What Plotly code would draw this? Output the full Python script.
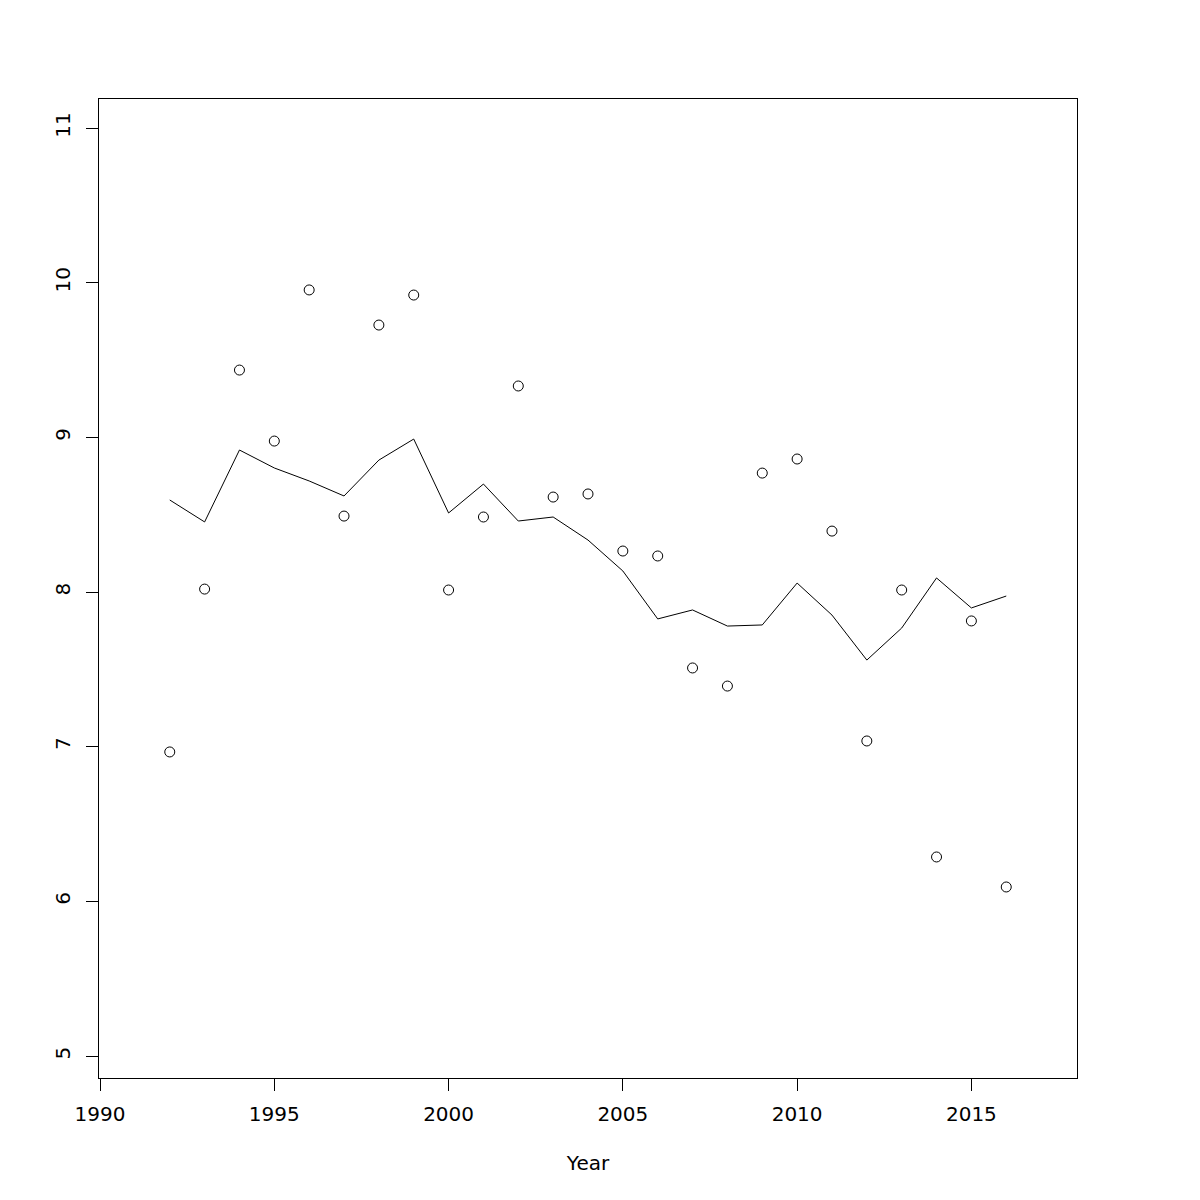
import plotly.graph_objects as go

years = list(range(1992, 2017))
points = [6.966, 8.019, 9.435, 8.976, 9.953, 8.491, 9.726, 9.920, 8.013, 8.485,
          9.332, 8.614, 8.634, 8.265, 8.233, 7.509, 7.392, 8.769, 8.860, 8.394,
          7.037, 8.013, 6.287, 7.813, 6.093]
trend = [8.595, 8.453, 8.918, 8.802, 8.718, 8.621, 8.853, 8.989, 8.511, 8.698,
         8.459, 8.485, 8.336, 8.136, 7.826, 7.884, 7.780, 7.787, 8.058, 7.851,
         7.560, 7.767, 8.091, 7.897, 7.974]
x_ticks = [1990, 1995, 2000, 2005, 2010, 2015]
y_ticks = [5, 6, 7, 8, 9, 10, 11]

fig = go.Figure()
fig.add_trace(go.Scatter(x=years, y=points, mode="markers",
                         marker=dict(symbol="circle-open", size=10, color="black",
                                     line=dict(width=1, color="black")),
                         showlegend=False))
fig.add_trace(go.Scatter(x=years, y=trend, mode="lines",
                         line=dict(color="black", width=1), showlegend=False))

font = dict(family="DejaVu Sans", size=20, color="black")
fig.update_layout(
    width=1200, height=1200,
    margin=dict(l=91, r=131, t=91, b=130),
    paper_bgcolor="white", plot_bgcolor="white",
    font=font,
)
fig.update_xaxes(range=[1989.97, 2018.03], tickvals=x_ticks, ticks="outside",
                 ticklen=12, tickwidth=1, tickcolor="black", showgrid=False,
                 zeroline=False, showline=True, linecolor="black", linewidth=1,
                 mirror=True, tickfont=font, ticklabelstandoff=6,
                 title=dict(text="Year", font=font, standoff=30))
fig.update_yaxes(range=[4.858, 11.1875], tickvals=y_ticks, ticks="outside",
                 ticklen=12, tickwidth=1, tickcolor="black", showgrid=False,
                 zeroline=False, showline=True, linecolor="black", linewidth=1,
                 mirror=True, tickfont=font, tickangle=-90, ticklabelstandoff=8)

fig.write_html("out.html")
